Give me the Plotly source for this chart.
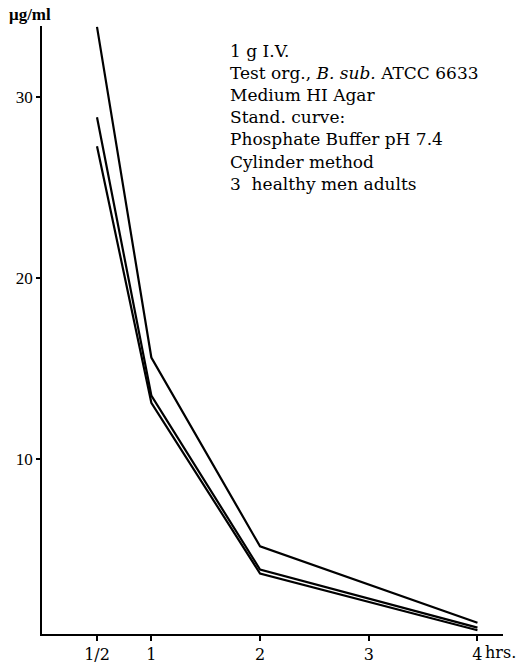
import plotly.graph_objects as go

# Serum levels after 1 g I.V. (three subjects)
hours = [0.5, 1, 2, 4]
subject_a = [33.9, 15.6, 5.15, 0.92]
subject_b = [28.9, 13.5, 3.87, 0.65]
subject_c = [27.3, 13.1, 3.65, 0.51]

x_tickvals = [0.5, 1, 2, 3, 4]
x_ticktext = ["1/2", "1", "2", "3", "4"]
y_tickvals = [10, 20, 30]

notes = [
    "1 g I.V.",
    "Test org., <i>B. sub.</i> ATCC 6633",
    "Medium HI Agar",
    "Stand. curve:",
    "Phosphate Buffer pH 7.4",
    "Cylinder method",
    "3  healthy men adults",
]

SERIF = "Liberation Serif"
WIDE_SERIF = "DejaVu Serif"

fig = go.Figure()
for ys in (subject_a, subject_b, subject_c):
    fig.add_trace(go.Scatter(
        x=hours, y=ys, mode="lines",
        line=dict(color="black", width=2.2),
        showlegend=False, hoverinfo="skip",
    ))

fig.update_layout(
    width=516, height=666,
    margin=dict(l=42, r=13, t=26, b=32),
    paper_bgcolor="white", plot_bgcolor="white",
    font=dict(family=SERIF, color="black", size=17),
    xaxis=dict(
        range=[-0.006, 4.235], showgrid=False, zeroline=False,
        automargin=False,
        showline=True, linecolor="black", linewidth=1.5,
        tickmode="array", tickvals=x_tickvals, ticktext=x_ticktext,
        ticks="outside", ticklen=5, tickwidth=1.5, tickcolor="black",
        tickfont=dict(family=WIDE_SERIF, size=16),
    ),
    yaxis=dict(
        range=[0.3, 33.95], showgrid=False, zeroline=False,
        automargin=False,
        showline=True, linecolor="black", linewidth=1.5,
        tickmode="array", tickvals=y_tickvals,
        ticks="outside", ticklen=4, tickwidth=1.5, tickcolor="black",
        tickfont=dict(family=SERIF, size=17),
    ),
    annotations=[
        dict(text="<br>".join(notes), xref="paper", yref="paper",
             x=0.403, y=0.978, xanchor="left", yanchor="top",
             align="left", showarrow=False,
             font=dict(family=WIDE_SERIF, size=17)),
        dict(text="<b>μg/ml</b>", xref="paper", yref="paper",
             x=-0.077, y=1.0, xanchor="left", yanchor="bottom",
             showarrow=False, font=dict(family=SERIF, size=17)),
        dict(text="hrs.", xref="x", yref="paper",
             x=4.05, y=0, yshift=-7, xanchor="left", yanchor="top",
             showarrow=False, font=dict(family=WIDE_SERIF, size=16)),
    ],
)

fig.write_html("out.html")
